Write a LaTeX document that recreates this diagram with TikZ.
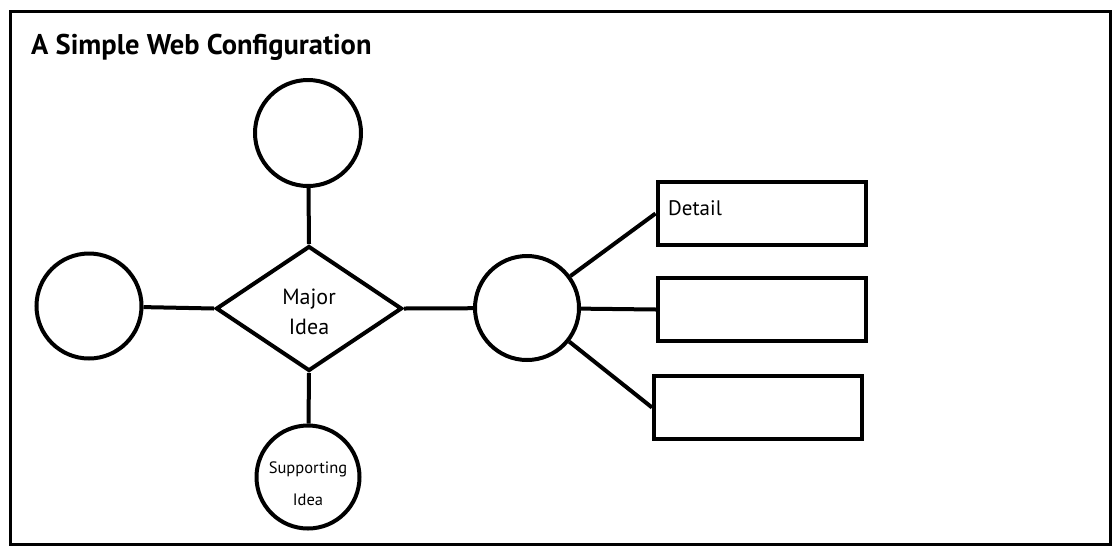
\documentclass[tikz,border=0pt]{standalone}
\usepackage{fontspec}
\setmainfont{PT Sans}
\usetikzlibrary{shapes.geometric}
\begin{document}
\begin{tikzpicture}[x=1pt,y=-1pt,
  shape line/.style={line width=4pt},
  bubble/.style={shape line,draw,circle,inner sep=0pt,minimum size=#1},
  detailbox/.style={shape line,draw,rectangle,inner sep=0pt,minimum width=208pt,minimum height=63pt},
  link/.style={line width=4pt},
  frame/.style={line width=3pt},
  caption/.style={inner sep=0pt,align=center}]
  \useasboundingbox (0,0) rectangle (1113,547);
  % outer frame
  \draw[frame] (10,11) rectangle (1110,544);
  % title
  \node[anchor=base west,inner sep=0pt,font=\bfseries\fontsize{28.5}{32}\selectfont] (title) at (31,54) {A Simple Web Configuration};

  % central idea and its satellites
  \node[shape line,draw,diamond,inner sep=0pt,minimum width=186pt,minimum height=125pt] (major) at (309,308.5) {};
  \node[caption,font=\fontsize{22}{30}\selectfont] (majortext) at ([yshift=-3pt]major.center) {Major\\Idea};
  \node[bubble=106pt] (top) at (308,133) {};
  \node[bubble=105pt] (left) at (89,306) {};
  \node[bubble=103pt] (support) at (308,477) {};
  \node[caption,font=\fontsize{16.5}{32}\selectfont] (supporttext) at ([yshift=-7pt]support.center) {Supporting\\Idea};
  \node[bubble=104pt] (mid) at (527,308) {};

  % detail boxes
  \node[detailbox] (d1) at (761.5,213.5) {};
  \node[detailbox] (d2) at (762,309.5) {};
  \node[detailbox] (d3) at (758,407.5) {};
  \node[anchor=base west,inner sep=0pt,font=\fontsize{21}{24}\selectfont] (detail) at (668,215) {Detail};

  % connectors
  \draw[link] (top) -- (major.north);
  \draw[link] (left) -- (major.west);
  \draw[link] (major.south) -- (support);
  \draw[link] (major.east) -- (mid);
  \draw[link] (mid) -- (d1.west);
  \draw[link] (mid) -- (d2.west);
  \draw[link] (mid) -- (d3.west);
\end{tikzpicture}
\end{document}
